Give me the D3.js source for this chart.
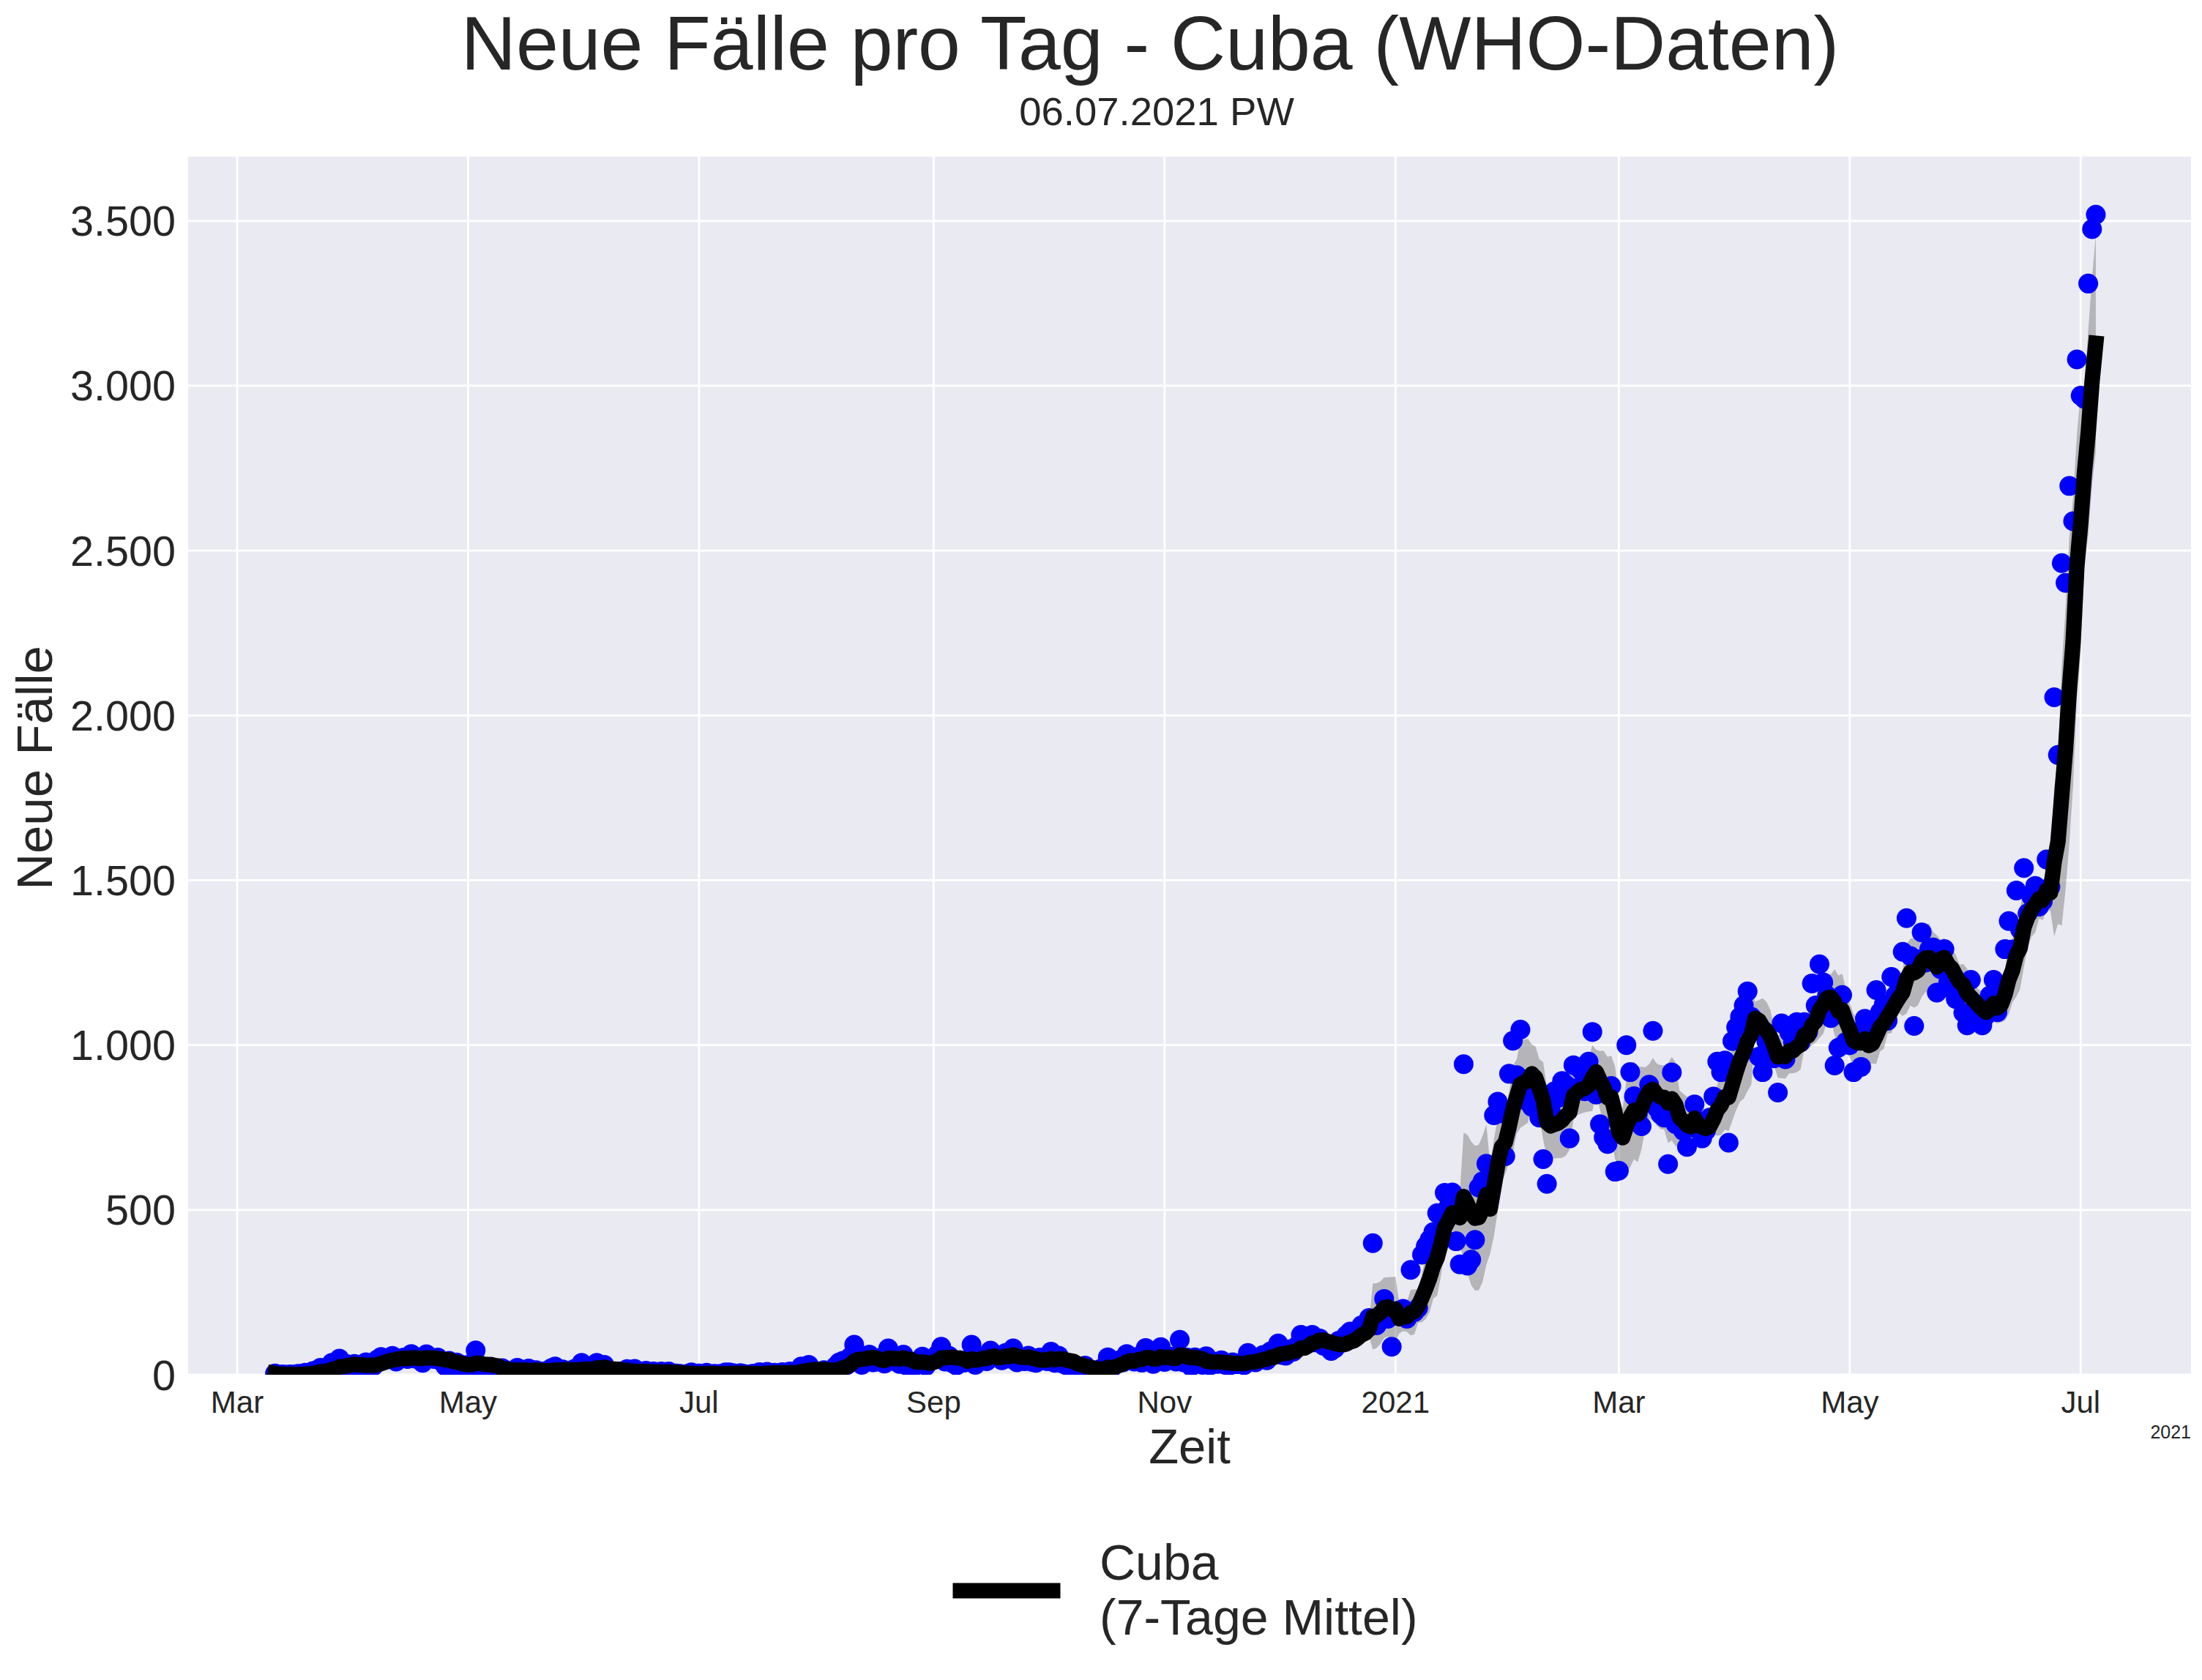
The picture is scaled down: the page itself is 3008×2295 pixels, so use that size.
<!DOCTYPE html>
<html>
<head>
<meta charset="utf-8">
<script src="https://cdn.jsdelivr.net/npm/d3@7"></script>
<style>
  body { margin: 0; background: #fff; }
  text { font-family: "Liberation Sans", Arial, sans-serif; fill: #262626; }
</style>
</head>
<body>
<div id="chart-container"></div>
<script>
// Daily new cases (WHO), first value = 11.03.2020
const startDate = [2020, 2, 11];
const cases2020 = [
  4, 0, 1, 0, 1, 0, 3, 3, 6, 5, 11, 14, 21, 12, 15, 36, 20, 49, 25, 32, 28,
  33, 21, 20, 38, 30, 26, 46, 54, 49, 48, 57, 40, 49, 52, 48, 63, 49, 49, 36, 62, 50, 48, 52, 40, 26, 42, 22, 37, 31, 26,
  30, 26, 74, 19, 22, 20, 24, 14, 11, 20, 14, 6, 12, 21, 12, 11, 19, 10, 14, 7, 10, 13, 20, 25, 13, 16, 11, 5, 17, 14, 36,
  20, 15, 9, 36, 13, 30, 15, 8, 7, 9, 10, 17, 5, 18, 4, 7, 12, 5, 10, 6, 10, 7, 10, 4, 4, 3, 1, 3, 7, 2,
  4, 3, 6, 1, 3, 2, 3, 7, 7, 5, 3, 5, 2, 0, 3, 4, 8, 5, 9, 4, 6, 3, 8, 5, 10, 7, 9, 25, 12, 30, 14,
  11, 8, 14, 12, 9, 25, 37, 42, 29, 55, 91, 44, 30, 48, 61, 38, 40, 52, 34, 80, 42, 55, 33, 61, 27, 30, 26, 35, 55, 27, 44,
  48, 62, 85, 40, 58, 35, 28, 44, 37, 45, 91, 30, 47, 55, 41, 73, 60, 52, 44, 66, 49, 80, 38, 45, 41, 58, 39, 36, 52, 44,
  41, 70, 36, 58, 34, 29, 30, 25, 22, 18, 28, 14, 12, 10, 17, 24, 53, 20, 31, 44, 38, 63, 49, 40, 55, 37, 81, 42, 33, 50, 84,
  39, 46, 55, 40, 106, 38, 52, 25, 53, 34, 30, 56, 28, 40, 33, 44, 30, 27, 38, 32, 35, 29, 66, 41, 38, 52, 60, 44, 71, 63,
  95, 60, 58, 77, 70, 88, 121, 92, 105, 121, 98, 110, 88, 93, 72, 80, 103, 97, 120, 131, 118, 125, 150, 141, 172, 399, 150, 180, 230, 170, 85
];
const cases2021 = [
  180, 195, 200, 170, 318, 190, 203, 364, 390, 410, 433, 490, 487, 552, 510, 553, 405, 335, 942, 331, 349, 409, 568, 587, 640, 635, 787, 828, 793, 663, 913,
  1013, 909, 1047, 870, 828, 813, 830, 780, 654, 579, 800, 860, 840, 891, 880, 717, 939, 870, 924, 860, 950, 1040, 850, 760, 720, 700, 876, 616,
  619, 740, 1000, 918, 845, 790, 754, 830, 880, 1043, 810, 790, 780, 639, 917, 760, 770, 740, 691, 750, 820, 770, 717, 740, 780, 844, 950, 918, 953, 704, 1012,
  1054, 1086, 1120, 1163, 1086, 1050, 965, 918, 1010, 990, 960, 856, 1066, 957, 1039, 1010, 1070, 1008, 1070, 1040, 1187, 1120, 1245, 1190, 1150, 1082, 938, 992, 1152, 1010,
  1000, 918, 1040, 934, 1080, 1008, 1050, 1167, 1100, 1124, 1074, 1207, 1150, 1180, 1283, 1385, 1270, 1058, 1260, 1342, 1250, 1291, 1296, 1159, 1230, 1291, 1190, 1170, 1140, 1160, 1098,
  1060, 1198, 1110, 1080, 1060, 1090, 1150, 1198, 1100, 1180, 1291, 1376, 1290, 1469, 1350, 1537, 1400, 1450, 1483, 1420, 1436, 1563, 1480, 2055, 1880, 2462, 2402, 2696, 2589, 3080,
  2970, 2960, 3310, 3475, 3519
];

const yTicks = [0, 500, 1000, 1500, 2000, 2500, 3000, 3500];
const xTickDates = ["2020-03-01", "2020-05-01", "2020-07-01", "2020-09-01", "2020-11-01",
                    "2021-01-01", "2021-03-01", "2021-05-01", "2021-07-01"];
const xTickLabels = ["Mar", "May", "Jul", "Sep", "Nov", "2021", "Mar", "May", "Jul"];

const titleText = "Neue Fälle pro Tag - Cuba (WHO-Daten)";
const subtitleText = "06.07.2021 PW";
const legendLines = ["Cuba", "(7-Tage Mittel)"];

// Figure size and plot area
const W = 3008, H = 2295;
const margin = { top: 214, right: 15, bottom: 417, left: 257 };
const width = W - margin.left - margin.right;
const height = H - margin.top - margin.bottom;

// Build the daily table with a trailing 7-day mean and std
const values = cases2020.concat(cases2021);
const data = values.map((v, i) => {
    const win = values.slice(Math.max(0, i - 6), i + 1);
    return {
        date: new Date(Date.UTC(startDate[0], startDate[1], startDate[2] + i)),
        cases: v,
        mean: d3.mean(win),
        sd: win.length > 1 ? d3.deviation(win) : null
    };
});

// Scales (5% padding like matplotlib, nudged to line up with the original)
const DAY = 864e5;
const ext = d3.extent(data, d => d.date);
const pad = (ext[1] - ext[0]) * 0.05;
const shift = 1.1 * DAY;
const x = d3.scaleUtc()
    .domain([new Date(+ext[0] - pad + shift), new Date(+ext[1] + pad + shift)])
    .range([0, width]);
const y = d3.scaleLinear()
    .domain([0, d3.max(values) * 1.05])
    .range([height, 0]);

const de = d3.formatLocale({ decimal: ",", thousands: ".", grouping: [3], currency: ["", "€"] });
const fmt = de.format(",d");

const root = d3.select("#chart-container")
    .append("svg")
    .attr("width", W)
    .attr("height", H)
    .style("display", "block");

root.append("rect").attr("width", W).attr("height", H).attr("fill", "#fff");

const svg = root.append("g")
    .attr("transform", `translate(${margin.left},${margin.top})`);

svg.append("defs").append("clipPath").attr("id", "plotclip")
    .append("rect").attr("width", width).attr("height", height);

// Background and grid
svg.append("rect")
    .attr("width", width)
    .attr("height", height)
    .attr("fill", "#EAEAF2");

svg.append("g")
    .selectAll("line")
    .data(yTicks)
    .join("line")
    .attr("x1", 0).attr("x2", width)
    .attr("y1", d => y(d)).attr("y2", d => y(d))
    .attr("stroke", "#fff")
    .attr("stroke-width", 2.8);

svg.append("g")
    .selectAll("line")
    .data(xTickDates)
    .join("line")
    .attr("x1", d => x(new Date(d))).attr("x2", d => x(new Date(d)))
    .attr("y1", 0).attr("y2", height)
    .attr("stroke", "#fff")
    .attr("stroke-width", 2.8);

const plot = svg.append("g").attr("clip-path", "url(#plotclip)");

// Std band
const band = d3.area()
    .defined(d => d.sd !== null)
    .x(d => x(d.date))
    .y0(d => y(d.mean - d.sd))
    .y1(d => y(d.mean + d.sd));

plot.append("path")
    .datum(data)
    .attr("d", band)
    .attr("fill", "gray")
    .attr("opacity", 0.5);

// Daily points
plot.append("g")
    .selectAll("circle")
    .data(data)
    .join("circle")
    .attr("cx", d => x(d.date))
    .attr("cy", d => y(d.cases))
    .attr("r", 13.5)
    .attr("fill", "#0000ff");

// 7-day mean
const line = d3.line()
    .x(d => x(d.date))
    .y(d => y(d.mean));

plot.append("path")
    .datum(data)
    .attr("d", line)
    .attr("fill", "none")
    .attr("stroke", "#000")
    .attr("stroke-width", 21)
    .attr("stroke-linejoin", "round")
    .attr("stroke-linecap", "square");

// Tick labels
svg.append("g")
    .selectAll("text")
    .data(yTicks)
    .join("text")
    .attr("x", -17)
    .attr("y", d => y(d) + 20.5)
    .attr("text-anchor", "end")
    .attr("font-size", 57.5)
    .text(d => fmt(d));

svg.append("g")
    .selectAll("text")
    .data(xTickDates)
    .join("text")
    .attr("x", d => x(new Date(d)))
    .attr("y", height + 52)
    .attr("text-anchor", "middle")
    .attr("font-size", 42)
    .text((d, i) => xTickLabels[i]);

// offset label of the concise date formatter
svg.append("text")
    .attr("x", width)
    .attr("y", height + 87)
    .attr("text-anchor", "end")
    .attr("font-size", 25)
    .text("2021");

// Axis titles
svg.append("text")
    .attr("x", width / 2)
    .attr("y", height + 121)
    .attr("text-anchor", "middle")
    .attr("font-size", 67)
    .text("Zeit");

root.append("text")
    .attr("transform", `translate(71,${margin.top + height / 2 + 3}) rotate(-90)`)
    .attr("text-anchor", "middle")
    .attr("font-size", 69)
    .text("Neue Fälle");

// Title and subtitle
root.append("text")
    .attr("x", 1571)
    .attr("y", 95)
    .attr("text-anchor", "middle")
    .attr("font-size", 104)
    .text(titleText);

root.append("text")
    .attr("x", 1580)
    .attr("y", 171)
    .attr("text-anchor", "middle")
    .attr("font-size", 54.5)
    .text(subtitleText);

// Legend
const legend = root.append("g");
legend.append("line")
    .attr("x1", 1312).attr("x2", 1438)
    .attr("y1", 2173).attr("y2", 2173)
    .attr("stroke", "#000")
    .attr("stroke-width", 21)
    .attr("stroke-linecap", "square");

legend.selectAll("text")
    .data(legendLines)
    .join("text")
    .attr("x", 1502)
    .attr("y", (d, i) => 2158 + i * 75)
    .attr("font-size", 68)
    .text(d => d);
</script>
</body>
</html>
